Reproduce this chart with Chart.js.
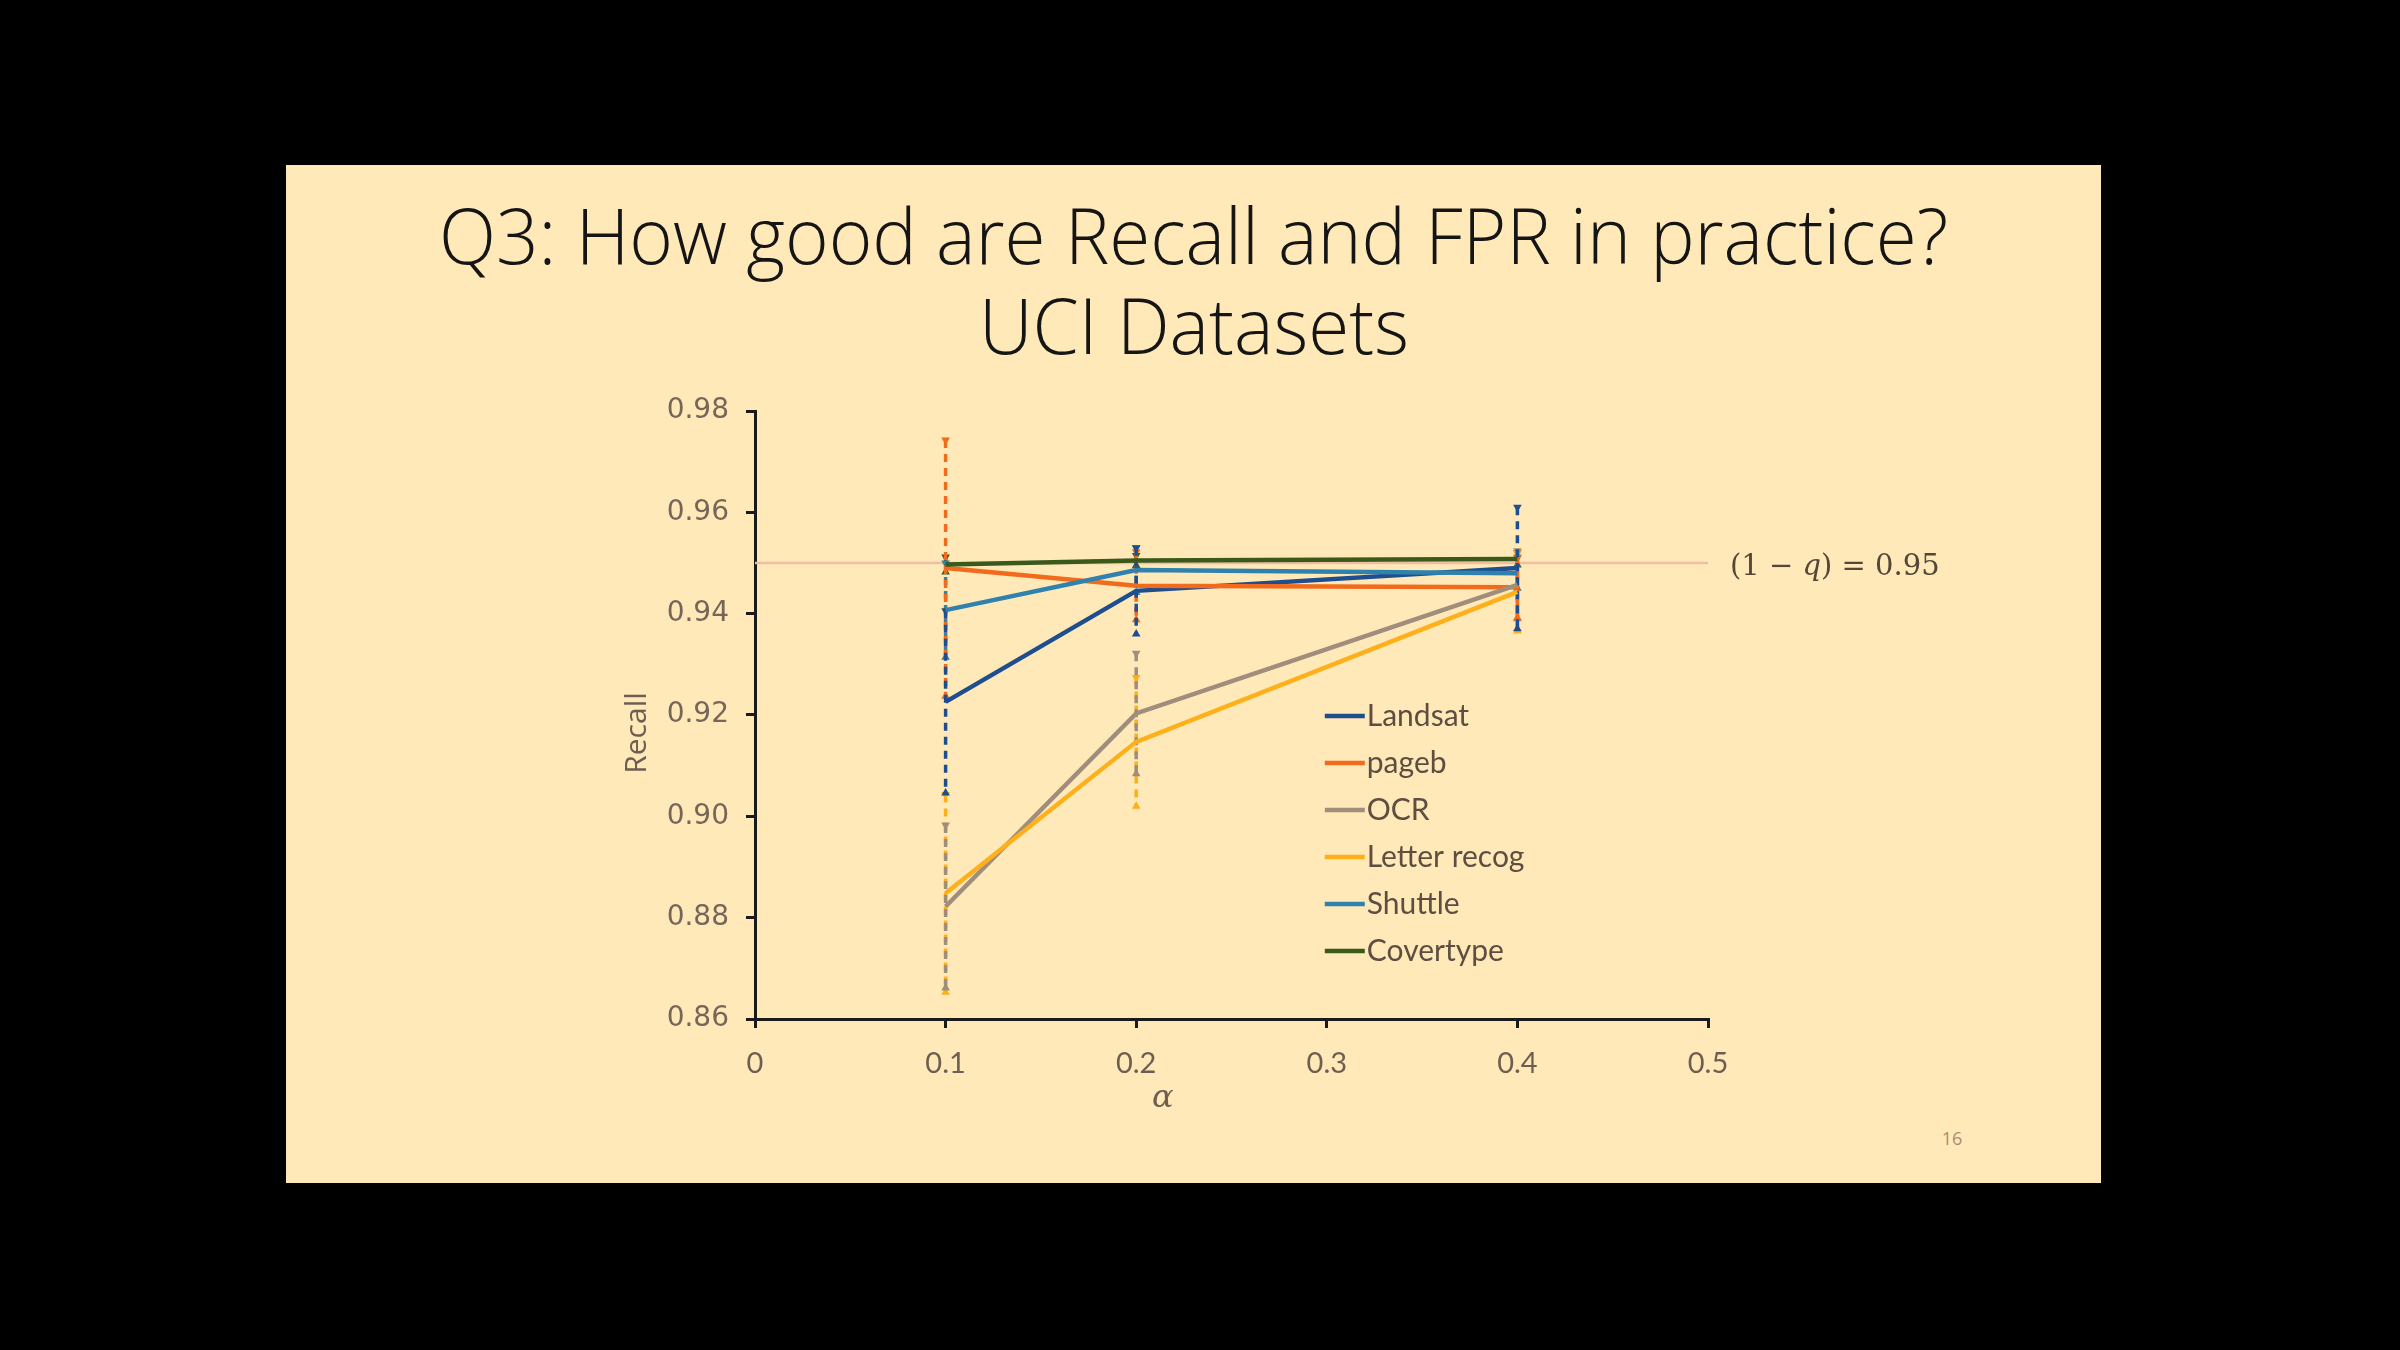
<!DOCTYPE html>
<html>
<head>
<meta charset="utf-8">
<script src="https://cdn.jsdelivr.net/npm/chart.js@4.4.1/dist/chart.umd.min.js"></script>
<style>
html, body { margin:0; padding:0; background:#000; width:2400px; height:1350px; overflow:hidden; }
#slide { position:absolute; left:286px; top:165px; width:1815px; height:1018px; background:#FFE9B8; }
#title { position:absolute; left:286px; width:1815px; top:189px; text-align:center; font-family:'Open Sans'; font-weight:300; font-size:78px; line-height:90px; color:#151515; }
#title span { display:inline-block; white-space:nowrap; transform-origin:50% 50%; }
#pg { position:absolute; left:1952px; top:1138px; transform:translate(-50%,-50%); font-family:'Open Sans'; font-size:18px; color:#B08A70; }
#c { position:absolute; left:0; top:0; }
</style>
</head>
<body>
<div id="slide"></div>
<div id="title"><span id="t1">Q3: How good are Recall and FPR in practice?</span><br><span id="t2">UCI Datasets</span></div>
<div id="pg">16</div>
<canvas id="c" width="2400" height="1350"></canvas>
<script>
// alpha values on the x axis
var alphas = [0.1, 0.2, 0.4];
var seriesNames = ['Landsat', 'pageb', 'OCR', 'Letter recog', 'Shuttle', 'Covertype'];
var seriesColors = ['#1F4E8F', '#F26A1B', '#A08D7C', '#FDB01A', '#2F82AE', '#3A5A1C'];

// recall (mean) per dataset
var landsat   = [0.9226, 0.9445, 0.9490];
var pageb     = [0.9490, 0.9455, 0.9452];
var ocr       = [0.8822, 0.9203, 0.9457];
var letter    = [0.8848, 0.9147, 0.9443];
var shuttle   = [0.9407, 0.9486, 0.9480];
var covertype = [0.9497, 0.9505, 0.9508];

// half width of the error bars
var landsatErr   = [0.0180, 0.0085, 0.0120];
var pagebErr     = [0.0253, 0.0067, 0.0060];
var ocrErr       = [0.0161, 0.0119, 0.0067];
var letterErr    = [0.0195, 0.0127, 0.0077];
var shuttleErr   = [0.0093, 0.0044, 0.0030];
var covertypeErr = [0.0015, 0.0010, 0.0012];

var target = 0.95;   // (1 - q)
var yTickMin = 0.86, yTickMax = 0.98, yStep = 0.02;
var xTickMin = 0, xTickMax = 0.5, xStep = 0.1;

var allVals = [landsat, pageb, ocr, letter, shuttle, covertype];
var allErrs = [landsatErr, pagebErr, ocrErr, letterErr, shuttleErr, covertypeErr];

function toPoints(vals) {
  return alphas.map(function(a, i) { return { x: a, y: vals[i] }; });
}
function errPoints(vals, errs) {
  var pts = [];
  alphas.forEach(function(a, i) {
    pts.push({ x: a, y: vals[i] + errs[i] });
    pts.push({ x: a, y: vals[i] - errs[i] });
    pts.push({ x: a, y: null });
  });
  return pts;
}

var datasets = [];
seriesNames.forEach(function(name, k) {
  datasets.push({
    label: name,
    data: toPoints(allVals[k]),
    borderColor: seriesColors[k],
    borderWidth: 4.5,
    pointRadius: 0,
    tension: 0,
    order: 6 - k
  });
});
seriesNames.forEach(function(name, k) {
  datasets.push({
    label: name + ' err',
    data: errPoints(allVals[k], allErrs[k]),
    borderColor: seriesColors[k],
    backgroundColor: seriesColors[k],
    borderWidth: 3.5,
    borderDash: [8, 6],
    spanGaps: false,
    pointStyle: 'triangle',
    pointRadius: function(ctx) { return ctx.index % 3 === 2 ? 0 : 5; },
    pointRotation: function(ctx) { return ctx.index % 3 === 0 ? 180 : 0; },
    pointBorderWidth: 0,
    pointBackgroundColor: seriesColors[k],
    order: 20
  });
});
datasets.push({
  label: 'target',
  data: [{ x: xTickMin, y: target }, { x: xTickMax, y: target }],
  borderColor: '#F1BEA3',
  borderWidth: 2.5,
  pointRadius: 0,
  order: 30
});

var extras = {
  id: 'extras',
  afterDraw: function(chart) {
    var ctx = chart.ctx, xs = chart.scales.x, ys = chart.scales.y, ca = chart.chartArea;
    ctx.save();
    // legend
    var lx = xs.getPixelForValue(0.3) - 2;
    var ly = ys.getPixelForValue(0.92) + 1;
    ctx.font = '30px Lato';
    ctx.textBaseline = 'middle';
    seriesNames.forEach(function(name, k) {
      var y = ly + k * 47;
      ctx.strokeStyle = seriesColors[k];
      ctx.lineWidth = 4.5;
      ctx.beginPath(); ctx.moveTo(lx, y); ctx.lineTo(lx + 40, y); ctx.stroke();
      ctx.fillStyle = '#5E4E42';
      ctx.fillText(name, lx + 42, y);
    });
    // target label
    var tx = ca.right + 22, ty = ys.getPixelForValue(target) + 4;
    var parts = [['(1 \u2212 ', ''], ['q', 'italic '], [') = 0.95', '']];
    ctx.fillStyle = '#55463A';
    parts.forEach(function(p) {
      ctx.font = p[1] + '29px "DejaVu Serif"';
      ctx.fillText(p[0], tx, ty);
      tx += ctx.measureText(p[0]).width;
    });
    // axis titles
    ctx.fillStyle = '#6E5E52';
    ctx.font = 'italic 32px "DejaVu Serif"';
    ctx.textAlign = 'center';
    ctx.fillText('\u03B1', xs.getPixelForValue(0.214), ca.bottom + 80);
    ctx.translate(ca.left - 118, (ca.top + ca.bottom) / 2 + 18);
    ctx.rotate(-Math.PI / 2);
    ctx.font = '30px "Open Sans"';
    ctx.fillText('Recall', 0, 0);
    ctx.restore();
  }
};

new Chart(document.getElementById('c'), {
  type: 'line',
  data: { datasets: datasets },
  options: {
    responsive: false,
    devicePixelRatio: 1,
    animation: false,
    layout: { padding: { left: 620, right: 692, top: 411, bottom: 251 } },
    plugins: { legend: { display: false }, tooltip: { enabled: false } },
    scales: {
      x: {
        type: 'linear', min: xTickMin, max: xTickMax,
        afterFit: function(s) { s.height = 80; },
        border: { display: true, color: '#1A1A1A', width: 3 },
        grid: { drawOnChartArea: false, drawTicks: true, tickLength: 9, color: '#1A1A1A', lineWidth: 3 },
        ticks: {
          stepSize: xStep, padding: 18, color: '#6E5E52', font: { family: 'Lato', size: 29 },
          callback: function(v) { return v === 0 ? '0' : v.toFixed(1); }
        }
      },
      y: {
        type: 'linear', min: yTickMin, max: yTickMax,
        afterFit: function(s) { s.width = 135; },
        border: { display: true, color: '#1A1A1A', width: 3 },
        grid: { drawOnChartArea: false, drawTicks: true, tickLength: 9, color: '#1A1A1A', lineWidth: 3 },
        ticks: {
          stepSize: yStep, padding: 17, color: '#76665A', font: { family: 'DejaVu Sans', size: 28 },
          callback: function(v) { return v.toFixed(2); }
        }
      }
    }
  },
  plugins: [extras]
});

// fit title width to the slide
var t1 = document.getElementById('t1'), t2 = document.getElementById('t2');
var sc = 1509 / t1.getBoundingClientRect().width;
t1.style.transform = 'scaleX(' + sc + ')';
t2.style.transform = 'scaleX(' + sc + ')';
</script>
</body>
</html>
